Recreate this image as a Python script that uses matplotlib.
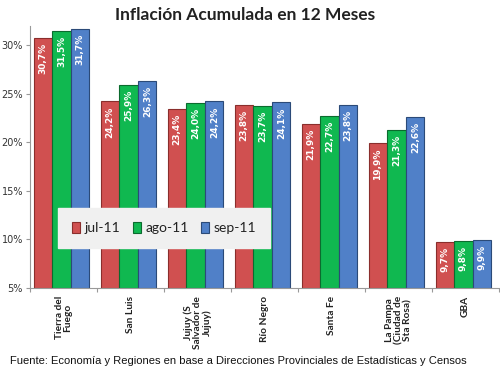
import matplotlib
matplotlib.use("Agg")
import matplotlib.pyplot as plt
import numpy as np

categories = ["Tierra del\nFuego", "San Luis", "Jujuy (S\nSalvador de\nJujuy)", "Río Negro",
              "Santa Fe", "La Pampa\n(Ciudad de\nSta Rosa)", "GBA"]
series_names = ["jul-11", "ago-11", "sep-11"]
jul = [30.7, 24.2, 23.4, 23.8, 21.9, 19.9, 9.7]
ago = [31.5, 25.9, 24.0, 23.7, 22.7, 21.3, 9.8]
sep = [31.7, 26.3, 24.2, 24.1, 23.8, 22.6, 9.9]
yticks = [5, 10, 15, 20, 25, 30]

colors = ["#D05050", "#10B850", "#5080C8"]
edges = ["#8A2E2C", "#0B6B2E", "#2B4A78"]

fig = plt.figure(figsize=(5, 3.78), dpi=100)
ax = fig.add_axes([0.06, 0.238, 0.938, 0.694])

x = np.arange(len(categories))
w = 0.28
base = 5
for i, (vals, name) in enumerate(zip([jul, ago, sep], series_names)):
    pos = x + (i - 1) * w - 0.03
    heights = [v - base for v in vals]
    ax.bar(pos, heights, w * 0.97, bottom=base, color=colors[i], edgecolor=edges[i],
           linewidth=0.8, label=name)
    for p, v in zip(pos, vals):
        ax.text(p, v - 0.5, f"{v:.1f}%".replace(".", ","), rotation=90, ha="center", va="top",
                color="white", fontsize=6.5, fontweight="bold", family="DejaVu Sans")

ax.set_xlim(-0.5, len(categories) - 0.5)
ax.set_ylim(5, 32)
ax.set_yticks(yticks)
ax.set_yticklabels([f"{t}%" for t in yticks], fontsize=7, color="#333333")
ax.set_xticks(np.arange(len(categories) + 1) - 0.5)
ax.set_xticklabels([])
for xi, c in zip(x, categories):
    ax.text(xi, 4.2, c, rotation=90, ha="center", va="top", fontsize=7.3, fontweight="bold",
            family="Lato", color="#222222", multialignment="center", linespacing=1.0)
ax.tick_params(axis="x", length=3, color="#999999")
ax.tick_params(axis="y", length=3, color="#999999", pad=2)
for s in ["top", "right"]:
    ax.spines[s].set_visible(False)
ax.spines["left"].set_color("#999999")
ax.spines["bottom"].set_color("#999999")

leg = ax.legend(loc="upper left", bbox_to_anchor=(0.045, 0.33), ncol=3,
                frameon=True, fancybox=False, handlelength=0.6, handleheight=0.8,
                handletextpad=0.3, columnspacing=0.9, borderpad=1.0,
                prop={"family": "Lato", "size": 10})
leg.get_frame().set_facecolor("#F0F0F0")
leg.get_frame().set_edgecolor("#F0F0F0")
leg.get_frame().set_alpha(1)
for t in leg.get_texts():
    t.set_color("#222222")

fig.text(0.49, 0.96, "Inflación Acumulada en 12 Meses", ha="center", va="center",
         fontsize=12.5, fontweight="bold", family="Lato", color="#222222")
fig.text(0.02, 0.045, "Fuente: Economía y Regiones en base a Direcciones Provinciales de Estadísticas y Censos",
         ha="left", va="center", fontsize=8, family="Liberation Sans", color="#111111")

fig.savefig("out.png", dpi=100)
